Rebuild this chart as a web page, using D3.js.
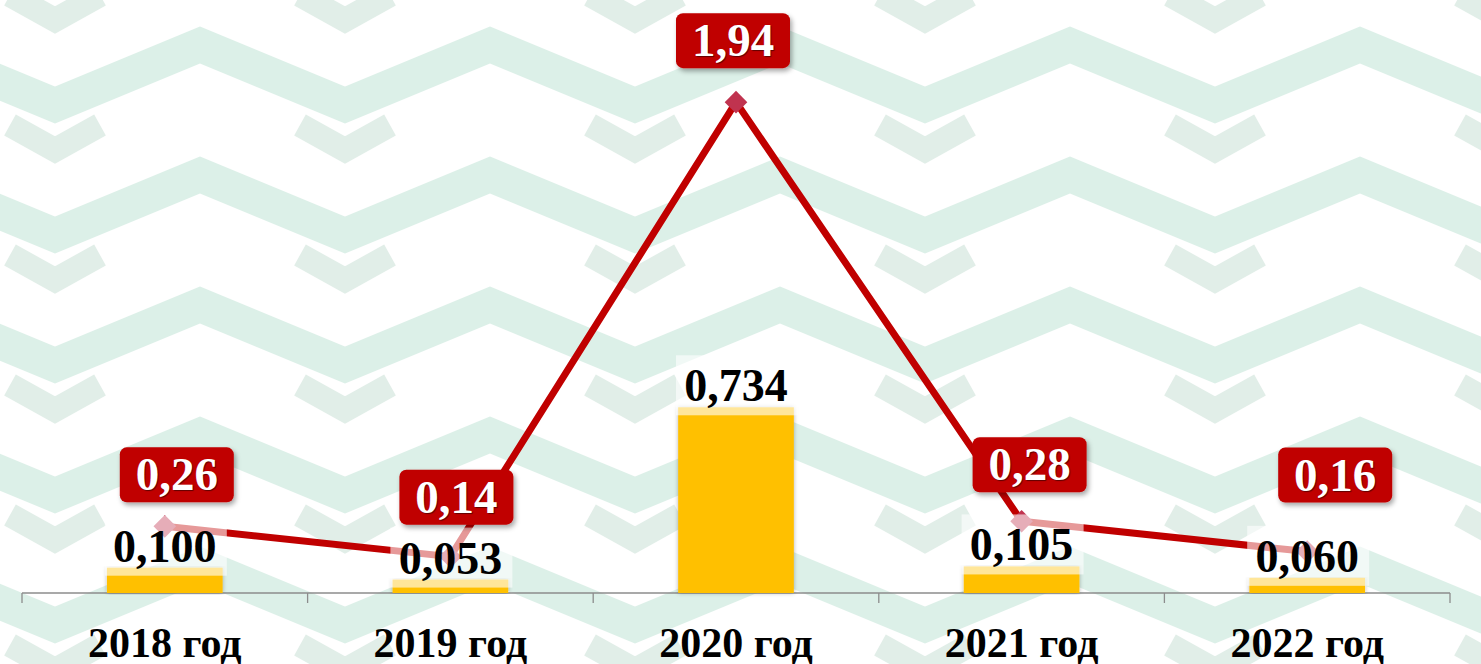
<!DOCTYPE html>
<html>
<head>
<meta charset="utf-8">
<script src="https://cdn.jsdelivr.net/npm/d3@7"></script>
<style>
  html, body { margin: 0; padding: 0; background: #fff; }
  svg { display: block; }
</style>
</head>
<body>
<svg id="chart" width="1481" height="664"></svg>
<script>
// ---- data ----
const categories = ["2018 год", "2019 год", "2020 год", "2021 год", "2022 год"];
const barValues = [0.100, 0.053, 0.734, 0.105, 0.060];
const barLabels = ["0,100", "0,053", "0,734", "0,105", "0,060"];
const lineValues = [0.26, 0.14, 1.94, 0.28, 0.16];
const lineLabels = ["0,26", "0,14", "1,94", "0,28", "0,16"];

// ---- layout ----
const W = 1481, H = 664;
const plot = { left: 22, right: 1450, bottom: 593 };
const svg = d3.select("#chart");

// background pattern
const defs = svg.append("defs");
const PW = 290, PH = 130;
const pat = defs.append("pattern")
  .attr("id", "bgpat").attr("patternUnits", "userSpaceOnUse")
  .attr("width", PW).attr("height", PH).attr("x", -90).attr("y", 0);
pat.append("rect").attr("width", PW).attr("height", PH).attr("fill", "#ffffff");
const zig = (y0) => `M${-PW / 2},${y0 + 60} L0,${y0} L${PW / 2},${y0 + 60} L${PW},${y0} L${PW * 1.5},${y0 + 60}`;
[-PH + 45, 45, PH + 45].forEach(y0 => {
  pat.append("path").attr("d", zig(y0)).attr("fill", "none")
    .attr("stroke", "#dcf0e8").attr("stroke-width", 34).attr("stroke-linejoin", "miter");
});
pat.append("path").attr("d", `M${PW / 2 - 45},${-5} L${PW / 2},${20} L${PW / 2 + 45},${-5}`)
  .attr("fill", "none").attr("stroke", "#e1eee8").attr("stroke-width", 24);
pat.append("path").attr("d", `M${PW / 2 - 45},${PH - 5} L${PW / 2},${PH + 20} L${PW / 2 + 45},${PH - 5}`)
  .attr("fill", "none").attr("stroke", "#e1eee8").attr("stroke-width", 24);
svg.append("rect").attr("width", W).attr("height", H).attr("fill", "url(#bgpat)");

// shadow filters
const sh = defs.append("filter").attr("id", "boxShadow")
  .attr("x", "-20%").attr("y", "-20%").attr("width", "150%").attr("height", "160%");
sh.append("feDropShadow").attr("dx", 2).attr("dy", 3).attr("stdDeviation", 2.5)
  .attr("flood-color", "#000").attr("flood-opacity", 0.35);
const bsh = defs.append("filter").attr("id", "barShadow")
  .attr("x", "-20%").attr("y", "-5%").attr("width", "140%").attr("height", "110%");
bsh.append("feDropShadow").attr("dx", 0).attr("dy", 0).attr("stdDeviation", 2)
  .attr("flood-color", "#000").attr("flood-opacity", 0.3);

// scales
const x = d3.scaleBand().domain(categories).range([plot.left, plot.right]).padding(0);
const yBar = d3.scaleLinear().domain([0, 2.2]).range([plot.bottom, plot.bottom - 2.2 * 253]);
const yLine = d3.scaleLinear().domain([0, 2.2]).range([plot.bottom - 1, plot.bottom - 1 - 2.2 * 252.5]);
const barW = x.bandwidth() * 0.405;
const cx = (c) => x(c) + x.bandwidth() / 2;

// axis
const axis = d3.axisBottom(x).tickSize(0).tickFormat("");
const gAxis = svg.append("g").attr("transform", `translate(0,${plot.bottom})`).call(axis);
gAxis.select(".domain").attr("stroke", "#8c8c8c").attr("stroke-width", 1.3).attr("d", `M${plot.left},0H${plot.right}`);
const bounds = categories.map(c => x(c)).concat([plot.right]);
gAxis.selectAll(".bound").data(bounds).join("line").attr("class", "bound")
  .attr("x1", d => d).attr("x2", d => d).attr("y1", 0).attr("y2", 10)
  .attr("stroke", "#8c8c8c").attr("stroke-width", 1.3);

// category labels
svg.append("g").selectAll("text").data(categories).join("text")
  .attr("x", d => cx(d)).attr("y", 657)
  .attr("text-anchor", "middle")
  .attr("font-family", "'Liberation Serif', 'Times New Roman', serif")
  .attr("font-weight", "bold").attr("font-size", 42).attr("fill", "#000")
  .text(d => d);

// bars
svg.append("g").selectAll("rect").data(barValues).join("rect")
  .attr("x", (d, i) => cx(categories[i]) - barW / 2)
  .attr("y", d => yBar(d))
  .attr("width", barW)
  .attr("height", d => plot.bottom - yBar(d))
  .attr("fill", "#ffc000")
  .attr("filter", "url(#barShadow)");

// line
const pts = lineValues.map((v, i) => [cx(categories[i]), yLine(v)]);
svg.append("path").datum(pts)
  .attr("d", d3.line())
  .attr("fill", "none").attr("stroke", "#c00000").attr("stroke-width", 7)
  .attr("stroke-linejoin", "miter");
svg.append("g").selectAll("path").data(pts).join("path")
  .attr("transform", d => `translate(${d[0]},${d[1]}) rotate(45)`)
  .attr("d", "M-8,-8H8V8H-8Z")
  .attr("fill", "#c0334f");

// bar labels with semi-transparent white background
const gBL = svg.append("g");
barValues.forEach((v, i) => {
  const c = cx(categories[i]);
  const top = yBar(v);
  const base = top - 6;
  gBL.append("rect")
    .attr("x", c - 60).attr("y", base - 46).attr("width", 122).attr("height", 60)
    .attr("fill", "#ffffff").attr("fill-opacity", 0.6);
  gBL.append("text")
    .attr("x", c).attr("y", base).attr("text-anchor", "middle")
    .attr("font-family", "'Liberation Serif', 'Times New Roman', serif")
    .attr("font-weight", "bold").attr("font-size", 46).attr("fill", "#000")
    .text(barLabels[i]);
});

// line labels (manually offset boxes as in the reference)
const lineLabelOffsets = [[12, -52], [6, -60], [-3, -62], [8, -57], [28, -77]];
const gLL = svg.append("g");
pts.forEach((p, i) => {
  const bx = p[0] + lineLabelOffsets[i][0];
  const by = p[1] + lineLabelOffsets[i][1];
  gLL.append("rect")
    .attr("x", bx - 57).attr("y", by - 27).attr("width", 114).attr("height", 55)
    .attr("rx", 7).attr("ry", 7)
    .attr("fill", "#c00000").attr("filter", "url(#boxShadow)");
  gLL.append("text")
    .attr("x", bx).attr("y", by + 16).attr("text-anchor", "middle")
    .attr("font-family", "'Liberation Serif', 'Times New Roman', serif")
    .attr("font-weight", "bold").attr("font-size", 47).attr("fill", "#ffffff")
    .style("text-shadow", "1px 1px 1px rgba(0,0,0,0.5)")
    .text(lineLabels[i]);
});
</script>
</body>
</html>
